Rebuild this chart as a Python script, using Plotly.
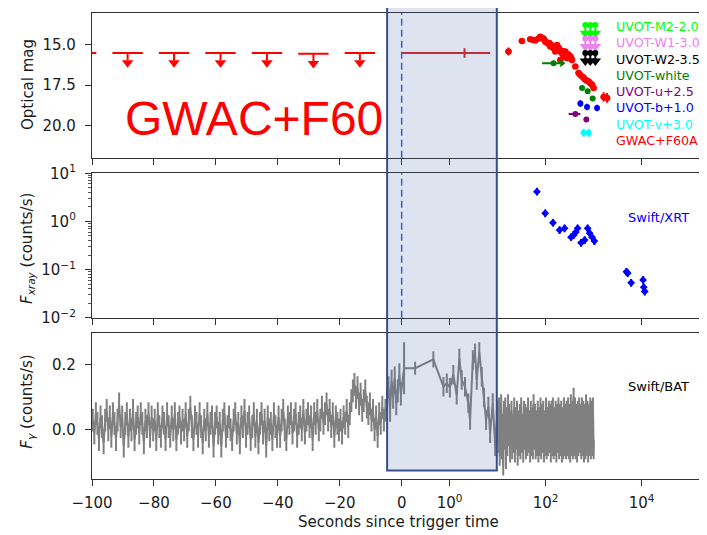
import numpy as np
import plotly.graph_objects as go
from plotly.subplots import make_subplots

# ---------------- data ----------------
# GWAC pre-trigger upper limits (time centre, half-width, limiting mag)
gwac_ul_t = [-103.5, -88.5, -73.5, -58.5, -43.5, -28.5, -13.5]
gwac_ul_halfwidth = [4.9, 4.9, 4.9, 4.9, 4.9, 4.9, 4.9]
gwac_ul_mag = [15.5, 15.5, 15.5, 15.5, 15.5, 15.55, 15.5]

# GWAC first detection with exposure range
gwac_det_t = [2.04]
gwac_det_tlo = [0.0]
gwac_det_thi = [7.0]
gwac_det_mag = [15.5]
gwac_det_err = [0.3]

# GWAC+F60A light curve
f60_t = [16.8, 32, 47.7, 55, 60.7, 70, 77, 82, 88, 93, 98, 106, 115, 120, 125, 133, 140, 146,
         152, 159, 165, 172, 180, 188, 195, 202, 210, 219, 228, 237, 246, 257, 268, 279, 300,
         327, 340, 354, 415, 486, 520, 573, 620, 671, 730, 787, 850, 927, 1000, 1618, 1905]
f60_mag = [15.41, 14.75, 14.65, 14.70, 14.73, 14.62, 14.49, 14.55, 14.59, 14.66, 14.80, 14.85,
           14.94, 14.88, 15.10, 15.02, 15.15, 15.20, 15.08, 15.41, 15.25, 15.0, 15.35, 15.18,
           15.31, 15.93, 15.45, 15.51, 15.38, 15.72, 15.55, 15.41, 15.65, 15.82, 15.60, 15.72,
           15.85, 15.93, 16.34, 16.75, 16.85, 16.96, 17.05, 17.16, 17.22, 17.27, 17.38, 17.47,
           17.67, 18.23, 18.29]
f60_err = [0.25, 0.15, 0.1, 0.1, 0.1, 0.1, 0.1, 0.1, 0.1, 0.12, 0.1, 0.12, 0.15, 0.12, 0.12,
           0.15, 0.15, 0.15, 0.15, 0.15, 0.15, 0.12, 0.15, 0.15, 0.15, 0.15, 0.15, 0.15, 0.15,
           0.15, 0.15, 0.15, 0.15, 0.12, 0.15, 0.15, 0.12, 0.12, 0.1, 0.1, 0.1, 0.1, 0.1, 0.1,
           0.1, 0.1, 0.1, 0.12, 0.12, 0.3, 0.3]

# UVOT upper limits
m2_t = [670, 851, 1084]
m2_mag = [13.77, 13.77, 13.77]
w1_t = [670, 851, 1084]
w1_mag = [14.6, 14.6, 14.6]
w2_t = [670, 851, 1084]
w2_mag = [15.5, 15.5, 15.5]

# UVOT detections
white_t = [146, 573, 750, 955]
white_tlo = [84, 573, 750, 955]
white_thi = [219, 573, 750, 955]
white_mag = [16.13, 17.67, 17.88, 18.33]
b_t = [528, 728, 1178]
b_mag = [18.64, 18.85, 18.91]
u_t = [415, 704]
u_tlo = [301, 704]
u_thi = [528, 704]
u_mag = [19.28, 19.63]
v_t = [618, 787]
v_mag = [20.45, 20.45]

legend_labels = ["UVOT-M2-2.0", "UVOT-W1-3.0", "UVOT-W2-3.5", "UVOT-white",
                 "UVOT-u+2.5", "UVOT-b+1.0", "UVOT-v+3.0", "GWAC+F60A"]

# Swift/XRT
xrt_t = [65.8, 98, 142, 195, 248, 338, 383, 425, 464, 546, 649, 750, 826, 926, 1035,
         4820, 5130, 6040, 10700, 11060, 11600]
xrt_f = [4.15, 1.48, 0.94, 0.66, 0.72, 0.47, 0.52, 0.60, 0.72, 0.36, 0.41, 0.72, 0.57, 0.47,
         0.39, 0.090, 0.084, 0.053, 0.061, 0.043, 0.035]

# Swift/BAT: 0.5-s bins before trigger (-99.75 ... -0.25)
bat_pre_start = -99.75
bat_pre_step = 0.5
bat_pre_val = [
    0.03, -0.01, 0.05, 0.02, -0.03, 0.04, 0.01, -0.04, 0.03, 0.06,
    0.00, 0.04, -0.02, 0.05, 0.02, -0.03, 0.03, 0.08, 0.01, 0.04,
    -0.05, 0.02, 0.05, -0.02, 0.03, 0.00, 0.06, -0.03, 0.02, 0.04,
    -0.01, 0.05, 0.02, -0.04, 0.03, 0.01, 0.05, -0.02, 0.04, 0.00,
    0.03, -0.03, 0.05, 0.01, -0.02, 0.04, 0.02, -0.03, 0.05, 0.01,
    -0.02, 0.04, 0.00, 0.05, -0.03, 0.02, 0.04, -0.01, 0.03, 0.00,
    0.05, -0.02, 0.03, 0.07, 0.01, -0.03, 0.04, 0.02, -0.02, 0.05,
    0.01, -0.04, 0.03, 0.00, 0.05, -0.02, 0.02, 0.04, -0.05, 0.02,
    0.04, -0.01, 0.02, -0.05, 0.03, 0.05, -0.02, 0.01, 0.04, 0.00,
    -0.03, 0.03, 0.05, -0.01, 0.02, -0.04, 0.04, 0.01, 0.06, -0.02,
    0.02, 0.04, -0.03, 0.01, 0.05, -0.02, 0.03, -0.04, 0.02, 0.05,
    -0.01, 0.03, -0.05, 0.04, 0.00, 0.02, -0.03, 0.05, 0.01, -0.02,
    0.04, -0.02, 0.03, 0.06, 0.00, -0.03, 0.04, 0.02, 0.05, -0.01,
    0.03, 0.05, -0.02, 0.02, 0.04, 0.00, 0.06, -0.01, 0.03, 0.05,
    0.01, 0.04, -0.03, 0.05, 0.02, 0.06, 0.00, 0.03, 0.07, 0.02,
    0.05, 0.08, 0.03, 0.06, 0.01, 0.05, -0.02, 0.04, 0.02, 0.00,
    0.03, -0.01, 0.04, 0.02, 0.06, 0.01, 0.05, 0.09, 0.12, 0.14,
    0.10, 0.13, 0.08, 0.11, 0.06, 0.09, 0.12, 0.07, 0.05, 0.08,
    0.03, 0.06, 0.00, 0.04, -0.02, 0.05, 0.02, 0.07, 0.03, 0.06,
    0.09, 0.13, 0.06, 0.15, 0.10, 0.16, 0.08, 0.12, 0.17, 0.11]
bat_pre_err = 0.035

# Swift/BAT: coarse bins during the burst
bat_mid_t = [0.05, 0.28, 0.66, 0.87, 0.94, 1.01, 1.19, 1.4, 1.59, 1.78, 2.09, 2.45, 2.66,
             3.04, 3.38, 3.67, 4.14, 4.66, 5.2, 5.73, 6.4, 6.96, 7.9, 8.87, 9.6]
bat_mid_val = [0.19, 0.19, 0.217, 0.133, 0.144, 0.13, 0.17, 0.108, 0.22, 0.154, 0.133, 0.082,
               0.031, 0.215, 0.236, 0.154, 0.24, 0.164, 0.10, 0.03, 0.072, -0.01, 0.083,
               -0.05, 0.03]
bat_mid_err = [0.08, 0.02, 0.025, 0.03, 0.03, 0.03, 0.03, 0.03, 0.03, 0.03, 0.03, 0.03, 0.03,
               0.03, 0.03, 0.03, 0.03, 0.03, 0.03, 0.03, 0.03, 0.03, 0.03, 0.03, 0.03]

# Swift/BAT: after the burst, 10 s ... 1000 s
bat_post_tmin = 10.0
bat_post_tmax = 1000.0
bat_post_val = [
    0.06, -0.04, 0.07, -0.08, 0.03, 0.08, -0.06, 0.02, -0.11, 0.06,
    -0.03, 0.07, -0.09, 0.04, -0.05, 0.08, -0.02, 0.05, -0.07, 0.03,
    0.06, -0.06, 0.02, -0.04, 0.07, -0.07, 0.04, -0.03, 0.06, -0.08,
    0.03, -0.05, 0.05, -0.06, 0.07, -0.04, 0.02, -0.07, 0.06, -0.03,
    0.05, -0.06, 0.04, -0.05, 0.07, -0.04, 0.03, -0.07, 0.06, -0.05,
    0.04, -0.06, 0.08, -0.03, 0.05, -0.06, 0.03, -0.05, 0.06, -0.07,
    0.04, -0.05, 0.07, -0.06, 0.05, -0.04, 0.06, -0.07, 0.03, -0.05,
    0.07, -0.06, 0.04, -0.05, 0.06, -0.04, 0.05, -0.07, 0.06, -0.05,
    0.07, -0.06, 0.04, -0.05, 0.06, -0.07, 0.05, -0.04, 0.07, -0.06,
    0.05, -0.05, 0.06, -0.07, 0.04, -0.06, 0.07, -0.05, 0.05, -0.06,
    0.06, -0.05, 0.07, -0.06, 0.05, -0.07, 0.08, -0.05, 0.06, -0.06,
    0.10, -0.05, 0.07, -0.06, 0.05, -0.07, 0.06, -0.05, 0.07, -0.04,
    0.05, -0.06, 0.07, -0.05, 0.06, -0.07, 0.05, -0.06, 0.08, -0.05,
    0.06, -0.07, 0.05, -0.05, 0.07, -0.06, 0.06, -0.05, 0.07, -0.06]
bat_post_err = 0.03

# highlighted interval
highlight_t0 = -4.7
highlight_t1 = 9.6

x_tick_t = [-100, -80, -60, -40, -20, 0, 1, 100, 10000]
x_tick_text = ["\u2212100", "\u221280", "\u221260", "\u221240", "\u221220", "0",
               "10<sup>0</sup>", "10<sup>2</sup>", "10<sup>4</sup>"]

# ---------------- scale: linear for t<=0, log for t>=1 ----------------
D = 15.5


def tx(t):
    t = np.asarray(t, dtype=float)
    pos = np.maximum(t, 1e-12)
    return np.where(t <= 0, t, np.where(t < 1, D * t, D * (1 + np.log10(pos))))


FONT = "DejaVu Sans"
OFF = 8            # page offset of the figure inside the browser body
W, H = 707 - OFF, 535 - OFF
L = 92 - OFF


def px(x):
    return (x - OFF - L) / (W - L)


def py(y):
    return (H - (y - OFF)) / H


fig = make_subplots(rows=3, cols=1, shared_xaxes=False)

# ---- BAT ----
bat_pre_t = bat_pre_start + bat_pre_step * np.arange(len(bat_pre_val))
bat_post_t = np.logspace(np.log10(bat_post_tmin), np.log10(bat_post_tmax), len(bat_post_val))
bat_t = np.concatenate([bat_pre_t, bat_mid_t, bat_post_t])
bat_v = np.concatenate([bat_pre_val, bat_mid_val, bat_post_val])
bat_e = np.concatenate([np.full(len(bat_pre_val), bat_pre_err), bat_mid_err,
                        np.full(len(bat_post_val), bat_post_err)])
fig.add_hline(y=0, line=dict(color="black", width=2, dash="6px,4px"), row=3, col=1, layer="below")
fig.add_trace(go.Scatter(x=tx(bat_t), y=bat_v, mode="lines",
                         line=dict(color="gray", width=2),
                         error_y=dict(type="data", array=bat_e, color="gray", thickness=2, width=0),
                         showlegend=False), row=3, col=1)

# ---- XRT ----
xrt_t_a = np.array(xrt_t)
xrt_f_a = np.array(xrt_f)
fig.add_trace(go.Scatter(x=tx(xrt_t_a), y=xrt_f_a, mode="markers",
                         marker=dict(color="blue", size=6, symbol="diamond"),
                         error_y=dict(type="data", array=xrt_f_a * 0.2, arrayminus=xrt_f_a * 0.17,
                                      color="blue", thickness=2, width=0),
                         error_x=dict(type="constant", value=0.8, color="blue", thickness=2, width=0),
                         showlegend=False), row=2, col=1)

# ---- GWAC upper limits ----
ul_t = np.array(gwac_ul_t)
ul_m = np.array(gwac_ul_mag)
ul_hw = np.array(gwac_ul_halfwidth)
fig.add_trace(go.Scatter(x=tx(ul_t), y=ul_m, mode="markers", marker=dict(size=1, color="red"),
                         error_x=dict(type="data", array=tx(ul_t + ul_hw) - tx(ul_t),
                                      arrayminus=tx(ul_t) - tx(ul_t - ul_hw),
                                      color="red", thickness=2, width=0),
                         error_y=dict(type="data", symmetric=False, array=np.full(len(ul_m), 0.45),
                                      arrayminus=np.zeros(len(ul_m)), color="red", thickness=2, width=0),
                         showlegend=False), row=1, col=1)
fig.add_trace(go.Scatter(x=tx(ul_t), y=ul_m + 0.6, mode="markers",
                         marker=dict(symbol="triangle-down", size=10, color="red"),
                         showlegend=False), row=1, col=1)

# GWAC detection
dt = np.array(gwac_det_t)
fig.add_trace(go.Scatter(x=tx(dt), y=gwac_det_mag, mode="markers", marker=dict(size=1, color="#e02020"),
                         error_x=dict(type="data", array=tx(gwac_det_thi) - tx(dt),
                                      arrayminus=tx(dt) - tx(gwac_det_tlo),
                                      color="#e02020", thickness=2, width=0),
                         error_y=dict(type="data", array=gwac_det_err, color="#e02020", thickness=2, width=0),
                         showlegend=False), row=1, col=1)

# F60 light curve
fig.add_trace(go.Scatter(x=tx(f60_t), y=f60_mag, mode="markers",
                         marker=dict(color="red", size=6.5),
                         error_y=dict(type="data", array=f60_err, color="red", thickness=2, width=0),
                         error_x=dict(type="constant", value=1.0, color="red", thickness=2, width=0),
                         showlegend=False), row=1, col=1)


def add_ul(t, mag, color):
    m = np.array(mag)
    fig.add_trace(go.Scatter(x=tx(t), y=m, mode="markers", marker=dict(color=color, size=6),
                             error_y=dict(type="data", symmetric=False, array=np.full(len(m), 0.45),
                                          arrayminus=np.zeros(len(m)), color=color, thickness=2, width=0),
                             showlegend=False), row=1, col=1)
    fig.add_trace(go.Scatter(x=tx(t), y=m + 0.5, mode="markers",
                             marker=dict(symbol="triangle-down", size=10, color=color),
                             showlegend=False), row=1, col=1)


add_ul(m2_t, m2_mag, "lime")
add_ul(w1_t, w1_mag, "violet")
add_ul(w2_t, w2_mag, "black")


def add_det(t, mag, color, tlo=None, thi=None, yerr=0.15):
    t = np.array(t, dtype=float)
    ex = None
    if tlo is not None:
        ex = dict(type="data", array=tx(thi) - tx(t), arrayminus=tx(t) - tx(tlo),
                  color=color, thickness=2, width=0)
    fig.add_trace(go.Scatter(x=tx(t), y=mag, mode="markers", marker=dict(color=color, size=6),
                             error_x=ex,
                             error_y=dict(type="constant", value=yerr, color=color, thickness=2, width=0),
                             showlegend=False), row=1, col=1)


add_det(white_t, white_mag, "green", white_tlo, white_thi, 0.05)
fig.add_trace(go.Scatter(x=tx(white_thi[:1]), y=white_mag[:1], mode="markers",
                         marker=dict(symbol="triangle-right", size=7, color="green"),
                         showlegend=False), row=1, col=1)
add_det(b_t, b_mag, "blue", yerr=0.2)
add_det(u_t, u_mag, "purple", u_tlo, u_thi, 0.1)
add_det(v_t, v_mag, "cyan", yerr=0.25)

# ---------------- axes ----------------
xr = [-100, 98.6]
axis_common = dict(showline=True, linecolor="#333333", linewidth=1.3, mirror=True,
                   ticks="outside", ticklen=6, tickcolor="#333333", tickwidth=1.2,
                   showgrid=False, zeroline=False, automargin=False,
                   tickfont=dict(family=FONT, size=15, color="#1a1a1a"))
x_tickvals = tx(x_tick_t)
for i, ax in enumerate(["xaxis", "xaxis2", "xaxis3"]):
    fig.layout[ax].update(**axis_common, range=xr, tickvals=x_tickvals, ticktext=x_tick_text,
                          showticklabels=(i == 2), ticklabelstandoff=4)

yaxis_common = dict(showline=True, linecolor="#333333", linewidth=1.3, mirror=False,
                    ticks="outside", ticklen=6, tickcolor="#333333", tickwidth=1.2,
                    showgrid=False, zeroline=False, ticklabelstandoff=6, automargin=False,
                    tickfont=dict(family=FONT, size=15, color="#1a1a1a"))
minor_vals = [m * 10.0 ** e for e in (-2, -1, 0) for m in (2, 3, 4, 5, 6, 7, 8, 9)]
fig.layout.yaxis.update(**yaxis_common, range=[22, 13], tickvals=[15, 17.5, 20],
                        ticktext=["15.0", "17.5", "20.0"], domain=[py(157.7), py(12.7)])
fig.layout.yaxis2.update(**yaxis_common, type="log", range=[-2, 1],
                         tickvals=[0.01, 0.1, 1, 10],
                         ticktext=["10<sup>\u22122</sup>", "10<sup>\u22121</sup>", "10<sup>0</sup>", "10<sup>1</sup>"],
                         minor=dict(ticks="outside", ticklen=3, tickcolor="#555555", showgrid=False,
                                    tickmode="array", tickvals=minor_vals),
                         domain=[py(317.7), py(173.3)])
fig.layout.yaxis3.update(**yaxis_common, range=[-0.15, 0.2975], tickvals=[0, 0.2],
                         ticktext=["0.0", "0.2"], domain=[py(478.7), py(333.3)])

# vertical dashed line at trigger in top and middle panels
fig.add_vline(x=0, line=dict(color="#4455cc", width=1.5, dash="7px,4px"), row=1, col=1)
fig.add_vline(x=0, line=dict(color="#4455cc", width=1.5, dash="7px,4px"), row=2, col=1)

# highlighted interval box spanning all panels
fig.add_shape(type="rect", xref="x", yref="paper", x0=float(tx(highlight_t0)), x1=float(tx(highlight_t1)),
              y0=py(470.5), y1=py(6.7), line=dict(color="#34508f", width=2),
              fillcolor="rgba(70,100,170,0.18)", layer="above")

# ---------------- annotations ----------------
ann = []
leg_colors = ["lime", "violet", "black", "green", "purple", "blue", "cyan", "red"]
leg_y = [26.7, 42.7, 59.5, 75.8, 91.6, 107.7, 124.3, 140.2]
for lab, c, yy in zip(legend_labels, leg_colors, leg_y):
    ann.append(dict(x=px(614), y=py(yy), xref="paper", yref="paper", text=lab, showarrow=False,
                    xanchor="left", yanchor="middle", font=dict(family=FONT, size=12.7, color=c)))
ann.append(dict(x=px(123), y=py(118), xref="paper", yref="paper", text="GWAC+F60", showarrow=False,
                xanchor="left", yanchor="middle", font=dict(family="Liberation Sans", size=48, color="red")))
ann.append(dict(x=px(626), y=py(217.3), xref="paper", yref="paper", text="Swift/XRT", showarrow=False,
                xanchor="left", yanchor="middle", font=dict(family=FONT, size=13, color="blue")))
ann.append(dict(x=px(626), y=py(386.7), xref="paper", yref="paper", text="Swift/BAT", showarrow=False,
                xanchor="left", yanchor="middle", font=dict(family=FONT, size=13, color="black")))
ann.append(dict(x=px(28), y=py(85), xref="paper", yref="paper", text="Optical mag", showarrow=False,
                textangle=-90, xanchor="center", yanchor="middle", font=dict(family=FONT, size=15, color="#1a1a1a")))
ann.append(dict(x=px(28), y=py(249), xref="paper", yref="paper",
                text="<i>F</i><sub><i>xray</i></sub> (counts/s)", showarrow=False,
                textangle=-90, xanchor="center", yanchor="middle", font=dict(family=FONT, size=15, color="#1a1a1a")))
ann.append(dict(x=px(28), y=py(401.7), xref="paper", yref="paper",
                text="<i>F</i><sub><i>\u03b3</i></sub> (counts/s)", showarrow=False,
                textangle=-90, xanchor="center", yanchor="middle", font=dict(family=FONT, size=15, color="#1a1a1a")))
ann.append(dict(x=px(398.3), y=py(522), xref="paper", yref="paper", text="Seconds since trigger time",
                showarrow=False, xanchor="center", yanchor="middle", font=dict(family=FONT, size=15, color="#1a1a1a")))
fig.update_layout(annotations=ann)

fig.update_layout(width=W, height=H, margin=dict(l=L, r=0, t=0, b=0, pad=0, autoexpand=False),
                  paper_bgcolor="white", plot_bgcolor="white", showlegend=False,
                  font=dict(family=FONT))

fig.write_html("out.html")
